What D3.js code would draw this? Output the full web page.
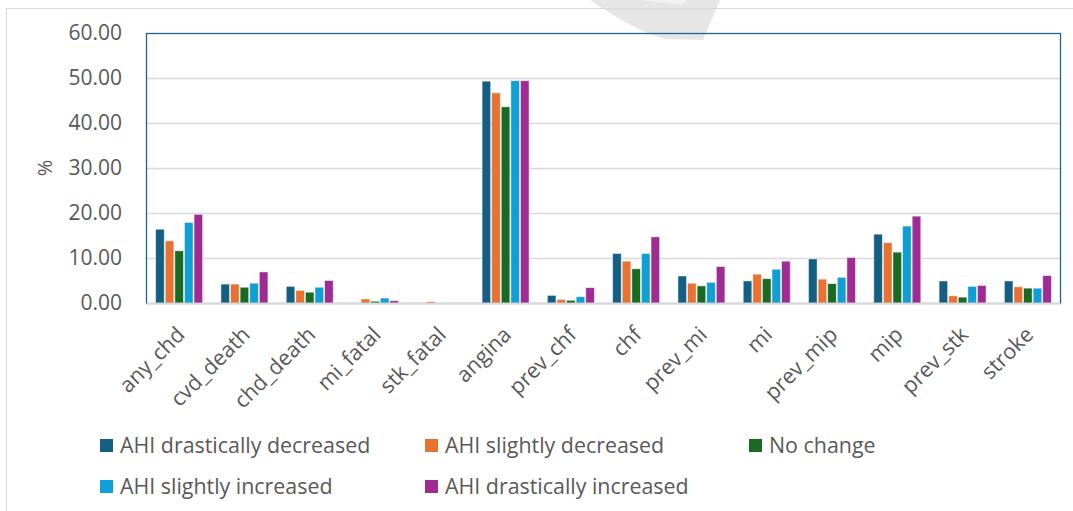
<!DOCTYPE html>
<html><head><meta charset="utf-8">
<script src="https://cdn.jsdelivr.net/npm/d3@7"></script>
<style>
html,body{margin:0;padding:0;background:#fff;}
svg{display:block;font-family:"Open Sans","Liberation Sans",sans-serif;}
</style></head>
<body><div id="chart"></div>
<script>
const categories = ["any_chd","cvd_death","chd_death","mi_fatal","stk_fatal","angina","prev_chf","chf","prev_mi","mi","prev_mip","mip","prev_stk","stroke"];
const seriesNames = ["AHI drastically decreased","AHI slightly decreased","No change","AHI slightly increased","AHI drastically increased"];
const drasticDecrease = [16.4, 4.2, 3.7, 0.0, 0.0, 49.3, 1.7, 11.0, 6.0, 4.9, 9.8, 15.3, 4.9, 4.9];
const slightDecrease  = [13.8, 4.2, 2.8, 0.9, 0.3, 46.7, 0.8, 9.3, 4.4, 6.4, 5.3, 13.4, 1.6, 3.6];
const noChange        = [11.6, 3.5, 2.4, 0.4, 0.0, 43.6, 0.6, 7.6, 3.8, 5.4, 4.3, 11.3, 1.3, 3.3];
const slightIncrease  = [17.9, 4.4, 3.5, 1.1, 0.0, 49.4, 1.4, 11.0, 4.6, 7.5, 5.7, 17.1, 3.7, 3.3];
const drasticIncrease = [19.7, 6.9, 5.0, 0.5, 0.0, 49.4, 3.4, 14.7, 8.1, 9.3, 10.1, 19.3, 3.9, 6.1];
const yTicks = [0, 10, 20, 30, 40, 50, 60];
const colors = ["#156082","#E97132","#196B24","#0F9ED5","#A02B93"];
const seriesValues = [drasticDecrease, slightDecrease, noChange, slightIncrease, drasticIncrease];

(function(){
const W = 1073, H = 511;
const svg = d3.select("#chart").append("svg").attr("width", W).attr("height", H);

// decorative watermark shape
svg.append("path")
  .attr("d", "M590,0 C610,14 640,32 665,39 L703,40 L720,0 Z")
  .attr("fill", "#e6e6e6");
svg.append("path").attr("d","M640,0 L682,5 L687,0 Z").attr("fill","#f2f2f2");

// outer chart border
svg.append("rect").attr("x", 6.5).attr("y", 8.5).attr("width", 1200).attr("height", 600)
  .attr("fill", "none").attr("stroke", "#d9d9d9").attr("stroke-width", 1);

const pLeft = 146.5, pRight = 1060.5, pTop = 33, pBottom = 303;
const x0 = d3.scaleBand().domain(categories).range([pLeft, pRight]).paddingInner(0.265).paddingOuter(0.1325);
const x1 = d3.scaleBand().domain(seriesNames).range([0, x0.bandwidth()]);
const y = d3.scaleLinear().domain([0, 60]).range([pBottom, pTop]);

// gridlines
svg.append("g").selectAll("line").data(yTicks.filter(t => t > 0 && t < 60)).join("line")
  .attr("x1", pLeft).attr("x2", pRight)
  .attr("y1", d => Math.round(y(d)) + 0.5).attr("y2", d => Math.round(y(d)) + 0.5)
  .attr("stroke", "#d9d9d9").attr("stroke-width", 1.3);

// y axis labels
const yAxis = d3.axisLeft(y).tickValues(yTicks).tickFormat(d3.format(".2f")).tickSize(0).tickPadding(0);
const gy = svg.append("g").attr("transform", `translate(122,0)`).call(yAxis);
gy.select(".domain").remove();
gy.selectAll("text").attr("font-size", 21).attr("fill", "#595959")
  .attr("font-family", "'Open Sans','Liberation Sans',sans-serif");

// bars
const groups = svg.append("g").selectAll("g").data(categories).join("g")
  .attr("transform", d => `translate(${x0(d)},0)`);
groups.selectAll("rect").data((c, i) => seriesNames.map((s, j) => ({s, j, v: seriesValues[j][i]})))
  .join("rect")
  .attr("x", d => x1(d.s) + 0.5)
  .attr("width", x1.bandwidth() - 1)
  .attr("y", d => y(d.v))
  .attr("height", d => Math.max(0, pBottom - y(d.v)))
  .attr("fill", d => colors[d.j])
  .attr("stroke", d => d.v > 0 ? "#ffffff" : "none")
  .attr("stroke-opacity", 0.6)
  .attr("stroke-width", 0.8);

// plot area border
svg.append("rect").attr("x", pLeft).attr("y", pTop + 0.5).attr("width", pRight - pLeft).attr("height", pBottom - pTop)
  .attr("fill", "none").attr("stroke", "#1f6390").attr("stroke-width", 1.3);
// x axis line
svg.append("line").attr("x1", pLeft).attr("x2", pRight).attr("y1", pBottom + 0.5).attr("y2", pBottom + 0.5)
  .attr("stroke", "#d9d9d9").attr("stroke-width", 1.5);

// x axis labels
const xAxis = d3.axisBottom(x0).tickSize(0).tickPadding(0);
const gx = svg.append("g").attr("transform", `translate(0,${pBottom})`).call(xAxis);
gx.select(".domain").remove();
gx.selectAll("text")
  .attr("font-size", 21.5).attr("fill", "#595959")
  .attr("font-family", "'Open Sans','Liberation Sans',sans-serif")
  .attr("text-anchor", "end")
  .attr("dy", "0")
  .attr("transform", "translate(7,33) rotate(-45)");

// y label
svg.append("text").attr("transform", "translate(52,168) rotate(-90)")
  .attr("text-anchor", "middle").attr("font-size", 20).attr("fill", "#595959").text("%");

// legend
const legendPos = [[100,445],[425,445],[749,445],[100,486],[425,486]];
const lg = svg.append("g").selectAll("g").data(seriesNames).join("g")
  .attr("transform", (d, i) => `translate(${legendPos[i][0]},${legendPos[i][1]})`);
lg.append("rect").attr("x", 0).attr("y", -6).attr("width", 13).attr("height", 13)
  .attr("fill", (d, i) => colors[i]);
lg.append("text").attr("x", 20).attr("y", 0).attr("dy", "0.36em")
  .attr("font-size", 21.4).attr("fill", "#595959").text(d => d);
})();
</script></body></html>
